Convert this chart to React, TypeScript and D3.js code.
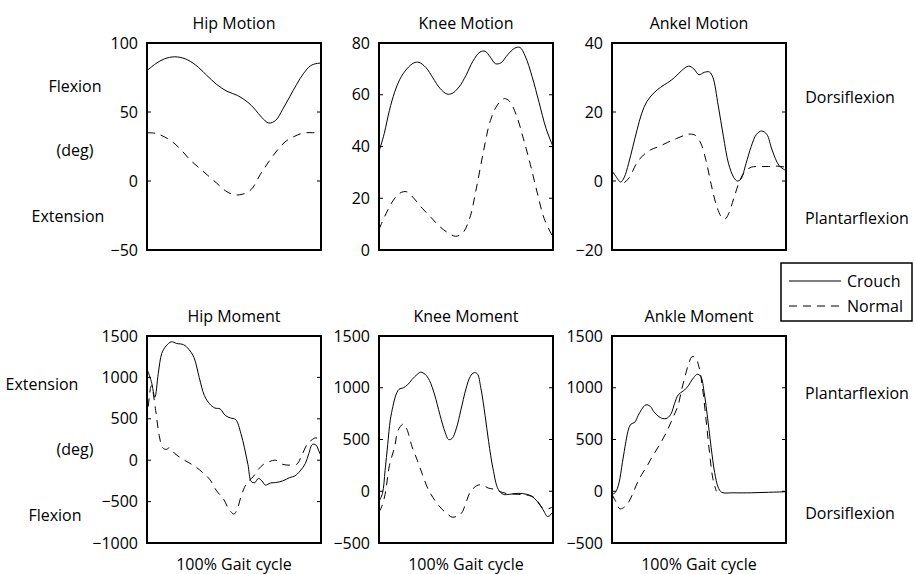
import * as d3 from "d3";

// gait cycle (%) vs value
const hipMotionCrouch: [number, number][] = [
  [0, 80], [5, 85], [10, 88.5], [16, 90], [22, 88.5], [28, 84], [34, 77], [40, 70],
  [46, 65], [52, 62], [58, 57], [62, 52], [66, 46], [70, 42], [74, 44], [78, 52],
  [82, 61], [86, 70], [90, 78], [94, 83.5], [97, 85], [100, 85.5],
];
const hipMotionNormal: [number, number][] = [
  [0, 35], [5, 34.5], [10, 32], [15, 28], [20, 22], [25, 15], [30, 9.5], [35, 4],
  [40, -1.5], [45, -7], [50, -10], [55, -9.5], [60, -6], [65, 4.5], [70, 14],
  [75, 22.5], [80, 29], [85, 32.5], [90, 34.8], [95, 35], [100, 35],
];
const kneeMotionCrouch: [number, number][] = [
  [0, 38], [3, 45], [6, 54], [9, 61], [12, 66], [16, 70], [20, 72.3], [23, 72.5],
  [27, 70.5], [31, 66.5], [35, 62.5], [39, 60.3], [42, 60.5], [46, 63], [50, 67.5],
  [54, 73], [58, 76.5], [61, 76.8], [64, 74.5], [67, 72], [70, 72.3], [74, 75.5],
  [78, 78], [81, 78.3], [84, 75], [88, 67], [92, 57], [96, 47], [100, 40],
];
const kneeMotionNormal: [number, number][] = [
  [0, 8], [4, 14], [8, 19], [12, 22], [16, 22.5], [20, 20], [25, 16], [30, 12.5],
  [35, 9], [40, 6.5], [44, 5.3], [48, 6.5], [52, 12], [56, 24], [60, 38], [64, 50],
  [68, 56], [72, 58.5], [75, 57.5], [79, 52], [83, 43], [87, 33], [91, 22], [95, 12],
  [100, 5],
];
const ankleMotionCrouch: [number, number][] = [
  [0, 3], [2, 1.5], [5, -0.3], [7, 1], [9.5, 5], [12, 10], [14.5, 15], [17, 19.5],
  [20, 23], [24, 25.5], [28, 27.2], [32, 28.5], [36, 30], [40, 32], [44, 33.3],
  [47, 32.5], [50, 30.8], [53, 31.5], [56, 31.6], [58, 30], [61, 22], [64, 13],
  [67, 5], [70, 1], [72, 0], [74, 0.5], [77, 5], [80, 10], [83, 13.5], [86, 14.5],
  [89, 13.5], [92, 9], [96, 4.5], [100, 3],
];
const ankleMotionNormal: [number, number][] = [
  [7, -0.5], [10, 1], [14, 5], [18, 7.5], [22, 9], [27, 10], [32, 11.2], [37, 12.3],
  [42, 13.3], [45, 13.6], [48, 13.2], [51, 11], [54, 6], [57, -1], [60, -7],
  [63, -10.5], [65, -11], [67, -9.5], [70, -5], [73, -0.5], [76, 2.5], [80, 4],
  [85, 4.2], [90, 4.2], [95, 4.3], [100, 4],
];
const hipMomentCrouch: [number, number][] = [
  [0, 1100], [2.5, 950], [4.5, 760], [6.5, 1050], [8.5, 1290], [11, 1380], [14, 1430],
  [17, 1410], [21, 1395], [24, 1340], [27, 1240], [30, 1000], [33, 780], [36, 680],
  [39, 630], [42, 620], [45, 540], [48, 510], [51, 490], [54, 320], [56, 150],
  [58, -50], [60, -260], [62, -270], [64, -220], [66, -250], [68, -300], [71, -275],
  [74, -270], [78, -250], [82, -210], [85, -190], [88, -130], [91, -40], [93, 80],
  [95, 190], [97, 185], [99, 100], [100, 50],
];
const hipMomentNormal: [number, number][] = [
  [0, 480], [2.5, 900], [5, 600], [7, 300], [9, 150], [11, 130], [13, 150], [16, 80],
  [20, 20], [24, -30], [28, -80], [32, -150], [36, -230], [40, -370], [44, -470],
  [47, -590], [50, -650], [52, -580], [54, -440], [56, -330], [58, -260], [61, -200],
  [64, -110], [67, -50], [70, -20], [74, 0], [78, -50], [82, -60], [86, -50],
  [89, 60], [92, 190], [95, 250], [97, 270], [100, 240],
];
const kneeMomentCrouch: [number, number][] = [
  [0, -100], [2, -20], [3.5, 200], [5, 450], [6.5, 690], [8, 820], [9.5, 920],
  [11.5, 985], [14, 1000], [16.5, 1030], [19, 1080], [22, 1130], [24, 1150],
  [26.5, 1130], [29, 1070], [32, 930], [35, 740], [38, 570], [40, 500], [42, 510],
  [44.5, 610], [47, 780], [50, 990], [52.5, 1110], [54.5, 1145], [56.5, 1135],
  [58.5, 1000], [61, 730], [63, 480], [65.5, 220], [68.5, 20], [71.5, -30], [75, -30],
  [80, -20], [85, -30], [88, -50], [91, -100], [94, -170], [97, -245], [100, -200],
];
const kneeMomentNormal: [number, number][] = [
  [0, -200], [1.5, -150], [3.5, -30], [6, 250], [9, 430], [11, 590], [14, 650],
  [16, 600], [19, 430], [22, 300], [25, 160], [28.5, 10], [31, -60], [33, -110],
  [36, -170], [39, -215], [42, -250], [45, -240], [47.5, -210], [50, -110], [52, -20],
  [54, 25], [57, 60], [60, 55], [63, 30], [66, 20], [69, 0], [73, -20], [80, -30],
  [86, -40], [90, -70], [94, -160], [97, -170], [100, -150],
];
const ankleMomentCrouch: [number, number][] = [
  [0, -30], [2, -10], [4, 80], [6, 280], [8, 480], [9.5, 600], [11, 650], [13, 665],
  [15, 730], [17, 790], [19.5, 835], [22, 820], [24, 770], [27, 720], [30, 700],
  [32, 710], [34, 750], [36, 850], [38, 930], [41, 970], [43, 1000], [45, 1050],
  [47, 1100], [49, 1130], [51, 1110], [53, 950], [55, 700], [57, 420], [59, 180],
  [61, 40], [63, -10], [70, -15], [80, -15], [90, -10], [100, -5],
];
const ankleMomentNormal: [number, number][] = [
  [0, -30], [2.5, -110], [4.5, -170], [6.5, -160], [9, -120], [11.5, -40], [14, 60],
  [17, 160], [20, 240], [23, 330], [27, 440], [31, 560], [35, 710], [38, 830],
  [40, 980], [42, 1110], [44, 1230], [46, 1300], [48, 1290], [50, 1200], [52, 1000],
  [54, 700], [56, 380], [58, 120], [60, 0],
];

const titles = ["Hip Motion", "Knee Motion", "Ankel Motion", "Hip Moment", "Knee Moment", "Ankle Moment"];
const domains: [number, number][] = [[-50, 100], [0, 80], [-20, 40], [-1000, 1500], [-500, 1500], [-500, 1500]];
const tickSteps = [50, 20, 20, 500, 500, 500];
const seriesNames = ["Crouch", "Normal"];

const FONT = "'Open Sans', sans-serif";
const FS = 16;
const colX = [147, 379, 612];
const rowY = [43, 336];
const W = 174;
const H = 207;

const panels = [
  { crouch: hipMotionCrouch, normal: hipMotionNormal },
  { crouch: kneeMotionCrouch, normal: kneeMotionNormal },
  { crouch: ankleMotionCrouch, normal: ankleMotionNormal },
  { crouch: hipMomentCrouch, normal: hipMomentNormal },
  { crouch: kneeMomentCrouch, normal: kneeMomentNormal },
  { crouch: ankleMomentCrouch, normal: ankleMomentNormal },
].map((p, i) => ({
  ...p,
  title: titles[i],
  domain: domains[i],
  ticks: d3.range(domains[i][0], domains[i][1] + 1, tickSteps[i]),
  left: colX[i % 3],
  top: rowY[Math.floor(i / 3)],
  bottomRow: i >= 3,
}));

const fmt = d3.format("d");

function Panel(p: (typeof panels)[number]) {
  const x = d3.scaleLinear([0, 100], [p.left, p.left + W]);
  const y = d3.scaleLinear(p.domain, [p.top + H, p.top]);
  const line = d3
    .line<[number, number]>()
    .x((d) => x(d[0]))
    .y((d) => y(d[1]))
    .curve(d3.curveCatmullRom.alpha(0.5));
  return (
    <g>
      <text x={p.left + W / 2} y={p.top - 14} textAnchor="middle" fontSize={FS}>
        {p.title}
      </text>
      {p.ticks.map((t) => (
        <g key={t}>
          <text x={p.left - 9} y={y(t)} dy="0.35em" textAnchor="end" fontSize={FS}>
            {fmt(t)}
          </text>
          <line x1={p.left} x2={p.left + 4} y1={y(t)} y2={y(t)} stroke="#000" />
          <line x1={p.left + W - 4} x2={p.left + W} y1={y(t)} y2={y(t)} stroke="#000" />
        </g>
      ))}
      <path d={line(p.normal) as string} fill="none" stroke="#000" strokeWidth={1} strokeDasharray="8,6" />
      <path d={line(p.crouch) as string} fill="none" stroke="#000" strokeWidth={1} />
      <rect x={p.left} y={p.top} width={W} height={H} fill="none" stroke="#000" strokeWidth={2} />
      {p.bottomRow && (
        <text x={p.left + W / 2} y={p.top + H + 27} textAnchor="middle" fontSize={FS}>
          100% Gait cycle
        </text>
      )}
    </g>
  );
}

export default function App() {
  return (
    <svg
      width={915}
      height={574}
      style={{ position: "absolute", left: 0, top: 0, background: "#fff" }}
      fontFamily={FONT}
    >
      <rect width={915} height={574} fill="#fff" />
      {panels.map((p) => (
        <Panel key={p.title} {...p} />
      ))}
      <g fontSize={FS} textAnchor="middle">
        <text x={75} y={92}>Flexion</text>
        <text x={75} y={156}>(deg)</text>
        <text x={68} y={222}>Extension</text>
        <text x={42} y={390}>Extension</text>
        <text x={75} y={455}>(deg)</text>
        <text x={55} y={521}>Flexion</text>
        <text x={850} y={103}>Dorsiflexion</text>
        <text x={857} y={224}>Plantarflexion</text>
        <text x={857} y={399}>Plantarflexion</text>
        <text x={850} y={519}>Dorsiflexion</text>
      </g>
      <g>
        <rect x={781} y={263} width={131} height={58} fill="#fff" stroke="#000" strokeWidth={1.5} />
        {seriesNames.map((s, i) => (
          <g key={s}>
            <line
              x1={789}
              x2={841}
              y1={281 + i * 25}
              y2={281 + i * 25}
              stroke="#000"
              strokeDasharray={i === 1 ? "8,6" : undefined}
            />
            <text x={847} y={281 + i * 25} dy="0.35em" fontSize={FS}>
              {s}
            </text>
          </g>
        ))}
      </g>
    </svg>
  );
}
